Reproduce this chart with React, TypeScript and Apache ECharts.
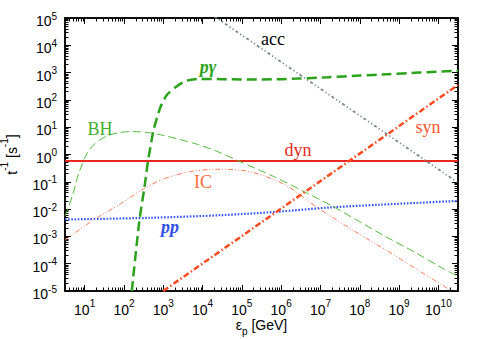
import React, { useEffect, useRef } from "react";
import * as echarts from "echarts";

// ---- Data (log10 of energy in GeV, log10 of rate in s^-1) ----
const xMajorExps = [1, 2, 3, 4, 5, 6, 7, 8, 9, 10];
const yMajorExps = [-5, -4, -3, -2, -1, 0, 1, 2, 3, 4, 5];

const dynLogE = [0.5, 10.5];
const dynLogRate = [-0.24, -0.24];

const accLogE = [4.3, 10.5];
const accLogRate = [5.06, -1.03];

const synLogE = [3.0, 10.5];
const synLogRate = [-5.0, 2.55];

const pgLogE = [2.2, 2.39, 2.52, 2.61, 2.75, 2.92, 3.09, 3.34, 3.59, 3.93, 4.5, 5.0, 5.5, 6.0, 6.4, 7.2, 8.0, 8.7, 9.5, 10.5];
const pgLogRate = [-5.0, -2.45, -1.22, -0.27, 0.86, 1.7, 2.18, 2.49, 2.7, 2.77, 2.76, 2.75, 2.75, 2.76, 2.78, 2.83, 2.89, 2.94, 3.0, 3.07];

const bhLogE = [0.5, 0.68, 0.85, 1.06, 1.27, 1.57, 1.87, 2.2, 2.63, 3.0, 3.42, 3.9, 4.36, 4.92, 5.8, 6.6, 7.3, 8.6, 9.4, 10.12, 10.5];
const bhLogRate = [-2.26, -1.55, -0.69, 0.04, 0.41, 0.68, 0.8, 0.84, 0.8, 0.7, 0.55, 0.36, 0.12, -0.24, -0.8, -1.37, -1.89, -2.96, -3.58, -4.18, -4.46];

const icLogE = [0.5, 1.2, 1.9, 2.5, 3.0, 3.68, 4.36, 5.2, 6.05, 6.5, 6.9, 7.8, 8.68, 9.5, 10.34];
const icLogRate = [-3.14, -2.42, -1.82, -1.26, -0.9, -0.63, -0.54, -0.63, -1.07, -1.5, -1.92, -2.75, -3.51, -4.25, -5.0];

const ppLogE = [0.5, 2.66, 4.5, 5.88, 7.24, 8.5, 10.5];
const ppLogRate = [-2.38, -2.32, -2.22, -2.1, -1.94, -1.84, -1.7];

const curveLabels = [
  { text: "acc", x: 273, y: 39, color: "#000000", style: "normal" },
  { text: "pγ", x: 208, y: 67, color: "#2aa31a", style: "italic bold" },
  { text: "BH", x: 100, y: 129, color: "#44b030", style: "normal" },
  { text: "dyn", x: 298, y: 150, color: "#e8281e", style: "normal" },
  { text: "IC", x: 203, y: 182, color: "#ff6a3a", style: "normal" },
  { text: "syn", x: 428, y: 127, color: "#ff5a2a", style: "normal" },
  { text: "pp", x: 170, y: 227, color: "#3050e8", style: "italic bold" },
];

const pairs = (xs: number[], ys: number[]) => xs.map((x, i) => [x, ys[i]]);

function minorTicks(lo: number, hi: number): number[] {
  const out: number[] = [];
  for (let n = Math.floor(lo) - 1; n <= Math.ceil(hi); n++) {
    for (let k = 2; k <= 9; k++) {
      const v = n + Math.log10(k);
      if (v > lo + 1e-6 && v < hi - 1e-6) out.push(v);
    }
  }
  return out;
}

const SANS = '"Liberation Sans", Arial, Helvetica, sans-serif';
const SERIF = '"Liberation Serif", "Times New Roman", serif';

export default function App() {
  const ref = useRef<HTMLDivElement>(null);

  useEffect(() => {
    if (!ref.current) return;
    const chart = echarts.init(ref.current, undefined, { renderer: "svg" });

    const xMin = 0.5, xMax = 10.5, yMin = -5, yMax = 5;
    const xMinor = minorTicks(xMin, xMax);
    const yMinor = minorTicks(yMin, yMax);
    const fmt = (v: number) => `{a|10}{b|${Math.round(v)}}`;

    const lineAxis = { show: true, onZero: false, lineStyle: { color: "#000", width: 1.5 } };
    const tickStyle = { color: "#000", width: 1 };

    const xBase: any = {
      type: "value", min: xMin, max: xMax, gridIndex: 0,
      splitLine: { show: false }, axisLine: lineAxis,
    };
    const yBase: any = {
      type: "value", min: yMin, max: yMax, interval: 1, gridIndex: 0,
      splitLine: { show: false }, axisLine: lineAxis,
    };

    const xRich = {
      a: { fontSize: 14, lineHeight: 19, fontFamily: SANS, color: "#000", verticalAlign: "bottom" },
      b: { fontSize: 10, lineHeight: 10, fontFamily: SANS, color: "#000", verticalAlign: "top" },
    };
    const yRich = {
      a: { fontSize: 14, lineHeight: 20, fontFamily: SANS, color: "#000", verticalAlign: "middle" },
      b: { fontSize: 10, lineHeight: 10, fontFamily: SANS, color: "#000", verticalAlign: "top" },
    };
    const yNameRich = {
      a: { fontSize: 14, lineHeight: 20, fontFamily: SANS, color: "#000", verticalAlign: "bottom" },
      b: { fontSize: 10, lineHeight: 10, fontFamily: SANS, color: "#000", verticalAlign: "top" },
    };

    const mkLine = (xs: number[], ys: number[], color: string, width: number, type: any, smooth: any = false) => ({
      type: "line",
      data: pairs(xs, ys),
      xAxisIndex: 0,
      yAxisIndex: 0,
      showSymbol: false,
      symbol: "none",
      smooth,
      lineStyle: { color, width, type },
      silent: true,
    });

    chart.setOption({
      animation: false,
      backgroundColor: "#ffffff",
      grid: { left: 65, right: 27, top: 18, bottom: 48, containLabel: false, outerBoundsMode: "none" },
      xAxis: [
        {
          ...xBase, position: "bottom",
          axisTick: { show: true, inside: true, length: 6, customValues: xMajorExps, lineStyle: tickStyle },
          axisLabel: { show: true, customValues: xMajorExps, formatter: fmt, rich: xRich, margin: 7 },
          name: "{a|ε}{b|p}{a| [GeV]}",
          nameLocation: "middle",
          nameGap: 23,
          nameMoveOverlap: false,
          nameTextStyle: {
            rich: {
              a: { fontSize: 14, lineHeight: 22, fontFamily: SANS, color: "#000", verticalAlign: "middle" },
              b: { fontSize: 10, lineHeight: 10, fontFamily: SANS, color: "#000", verticalAlign: "bottom" },
            },
          },
        },
        {
          ...xBase, position: "bottom",
          axisTick: { show: true, inside: true, length: 3.5, customValues: xMinor, lineStyle: tickStyle },
          axisLabel: { show: false },
        },
        {
          ...xBase, position: "top",
          axisTick: { show: true, inside: true, length: 6, customValues: xMajorExps, lineStyle: tickStyle },
          axisLabel: { show: false },
        },
        {
          ...xBase, position: "top",
          axisTick: { show: true, inside: true, length: 3.5, customValues: xMinor, lineStyle: tickStyle },
          axisLabel: { show: false },
        },
      ],
      yAxis: [
        {
          ...yBase, position: "left",
          axisTick: { show: true, inside: true, length: 6, customValues: yMajorExps, lineStyle: tickStyle },
          axisLabel: { show: true, customValues: yMajorExps, formatter: fmt, rich: yRich, margin: 8, padding: [6, 0, 0, 0] },
          name: "{a|t}{b|-1}{a| [s}{b|-1}{a|]}",
          nameLocation: "middle",
          nameRotate: 90,
          nameGap: 46,
          nameMoveOverlap: false,
          nameTextStyle: { rich: yNameRich },
        },
        {
          ...yBase, position: "left",
          axisTick: { show: true, inside: true, length: 3.5, customValues: yMinor, lineStyle: tickStyle },
          axisLabel: { show: false },
        },
        {
          ...yBase, position: "right",
          axisTick: { show: true, inside: true, length: 6, customValues: yMajorExps, lineStyle: tickStyle },
          axisLabel: { show: false },
        },
        {
          ...yBase, position: "right",
          axisTick: { show: true, inside: true, length: 3.5, customValues: yMinor, lineStyle: tickStyle },
          axisLabel: { show: false },
        },
      ],
      series: [
        mkLine(dynLogE, dynLogRate, "#e8281e", 2, "solid"),
        mkLine(ppLogE, ppLogRate, "#3355ee", 2.2, [1.6, 1.6], 0.3),
        mkLine(icLogE, icLogRate, "#ff7a5c", 1, [5, 2, 1, 2, 1, 2], 0.3),
        mkLine(bhLogE, bhLogRate, "#55bb3a", 1, [8, 4], 0.3),
        mkLine(synLogE, synLogRate, "#ff4a1f", 2.5, [6, 2.5, 1.5, 2.5]),
        mkLine(accLogE, accLogRate, "#7a8a8c", 1.8, [3, 2.5, 1.2, 2.5, 1.2, 2.5]),
        mkLine(pgLogE, pgLogRate, "#2aa31a", 2.5, [10, 5], 0.25),
      ],
      graphic: curveLabels.map((l) => ({
        type: "text",
        x: l.x,
        y: l.y,
        silent: true,
        z: 100,
        style: {
          text: l.text,
          fill: l.color,
          font: `${l.style} 18px ${SERIF}`,
          align: "center",
          verticalAlign: "middle",
        },
      })),
    });

    return () => chart.dispose();
  }, []);

  return (
    <div
      ref={ref}
      style={{ position: "fixed", left: 0, top: 0, width: 485, height: 339, background: "#fff" }}
    />
  );
}
